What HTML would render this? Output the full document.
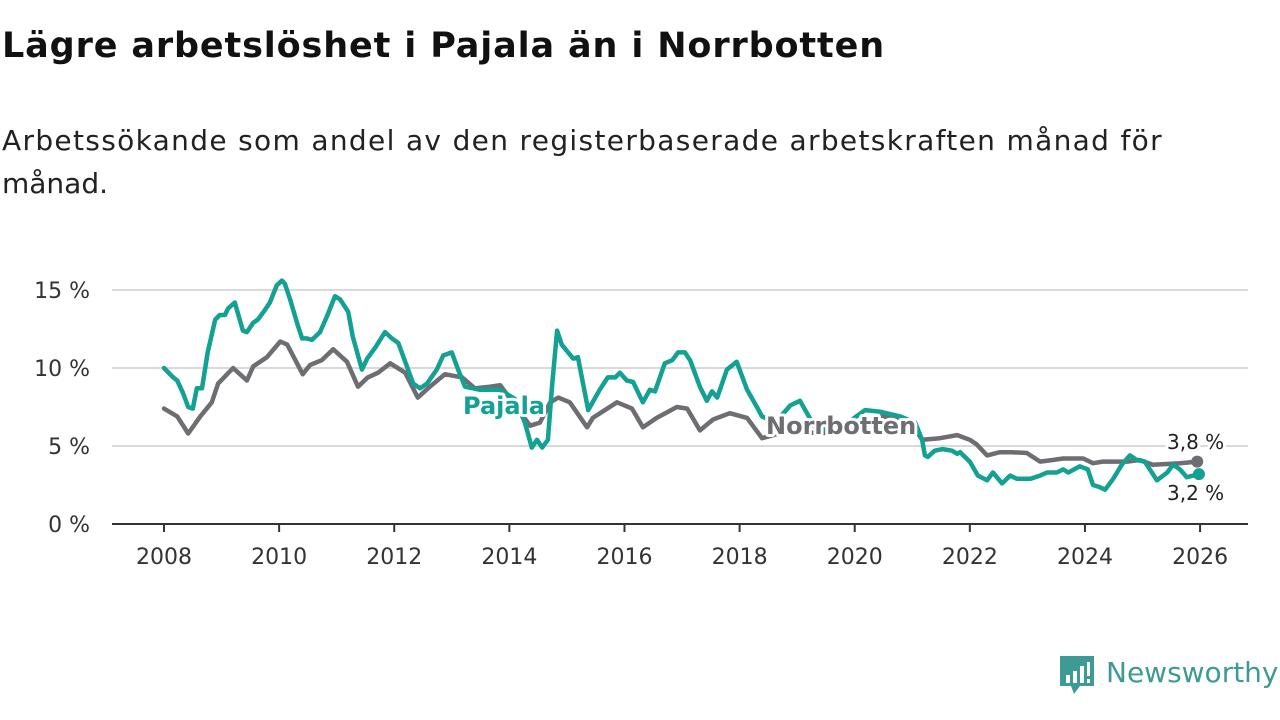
<!DOCTYPE html>
<html><head><meta charset="utf-8"><style>
body{margin:0;width:1280px;height:720px;background:#fff;font-family:"DejaVu Sans","Liberation Sans",sans-serif;overflow:hidden;position:relative}
h1{position:absolute;left:2px;top:26px;margin:0;font-size:35px;font-weight:bold;color:#111;white-space:nowrap}
.sub{position:absolute;left:2px;top:119px;margin:0;font-size:28px;line-height:43px;color:#222;white-space:nowrap}
.sub span{display:block}
svg{position:absolute;left:0;top:0}
</style></head><body>
<h1 id="title">Lägre arbetslöshet i Pajala än i Norrbotten</h1>
<div class="sub"><span id="sub1">Arbetssökande som andel av den registerbaserade arbetskraften månad för</span><span>månad.</span></div>
<svg id="chart" width="1280" height="720"></svg>
<svg width="1280" height="720" style="pointer-events:none">
<g>
<path d="M1060 656h34v30h-14l-6 8-3-8h-11z" fill="#3d9a94"/>
<rect x="1066" y="675" width="4" height="8" fill="#fff"/><rect x="1073" y="671" width="4" height="12" fill="#fff"/><rect x="1080" y="666" width="4" height="17" fill="#fff"/><rect x="1087" y="662" width="3" height="14" fill="#fff"/><rect x="1087" y="679" width="3" height="4" fill="#fff"/>
<text x="1106" y="682" font-size="28" fill="#3d9a94" font-family="DejaVu Sans, sans-serif">Newsworthy</text>
</g></svg>
<script>
const yTicks=[0,5,10,15];
const yTickLabels=["0 %","5 %","10 %","15 %"];
const xTicks=[2008,2010,2012,2014,2016,2018,2020,2022,2024,2026];
const pajalaT=[2008,2008.16,2008.23,2008.33,2008.42,2008.5,2008.57,2008.66,2008.76,2008.89,2008.97,2009.06,2009.11,2009.23,2009.37,2009.44,2009.55,2009.63,2009.75,2009.84,2009.96,2010.05,2010.1,2010.19,2010.31,2010.4,2010.48,2010.57,2010.71,2010.83,2010.97,2011.06,2011.2,2011.28,2011.44,2011.53,2011.67,2011.84,2011.96,2012.07,2012.22,2012.33,2012.45,2012.57,2012.74,2012.85,2013,2013.11,2013.23,2013.49,2013.84,2014.1,2014.27,2014.39,2014.48,2014.57,2014.67,2014.74,2014.83,2014.91,2015.02,2015.11,2015.19,2015.37,2015.57,2015.71,2015.84,2015.92,2016.04,2016.15,2016.32,2016.44,2016.53,2016.7,2016.83,2016.93,2017.05,2017.14,2017.31,2017.43,2017.52,2017.61,2017.78,2017.95,2018.13,2018.3,2018.39,2018.62,2018.88,2019.05,2019.31,2019.57,2019.92,2020.18,2020.44,2020.79,2021.05,2021.17,2021.22,2021.27,2021.39,2021.53,2021.69,2021.78,2021.83,2022,2022.14,2022.3,2022.4,2022.56,2022.7,2022.82,2023.05,2023.22,2023.34,2023.51,2023.62,2023.71,2023.91,2024.05,2024.14,2024.23,2024.35,2024.49,2024.64,2024.78,2024.9,2025.04,2025.25,2025.43,2025.53,2025.65,2025.77,2025.88,2025.98];
const pajalaV=[10,9.4,9.2,8.4,7.5,7.4,8.7,8.7,11,13.1,13.4,13.4,13.8,14.2,12.4,12.3,12.9,13.1,13.7,14.2,15.3,15.6,15.4,14.4,12.9,11.9,11.9,11.8,12.3,13.3,14.6,14.4,13.6,12,9.9,10.6,11.3,12.3,11.9,11.6,10.1,9,8.7,9,9.9,10.8,11,9.9,8.8,8.6,8.6,8,6.5,4.9,5.4,4.9,5.4,8.8,12.4,11.5,11,10.6,10.7,7.3,8.6,9.4,9.4,9.7,9.2,9.1,7.8,8.6,8.5,10.3,10.5,11,11,10.5,8.8,7.9,8.5,8.1,9.9,10.4,8.6,7.5,6.9,6.5,7.6,7.9,6.2,6,6.6,7.3,7.2,6.9,6.5,5.4,4.4,4.3,4.7,4.8,4.7,4.5,4.6,4,3.1,2.8,3.3,2.6,3.1,2.9,2.9,3.1,3.3,3.3,3.5,3.3,3.7,3.5,2.5,2.4,2.2,2.9,3.8,4.4,4.1,4,2.8,3.3,3.8,3.5,3,3.1,3.2];
const norrT=[2008,2008.23,2008.42,2008.63,2008.83,2008.94,2009.2,2009.44,2009.55,2009.79,2010.02,2010.14,2010.41,2010.54,2010.74,2010.94,2011.18,2011.37,2011.54,2011.72,2011.93,2012.19,2012.41,2012.62,2012.88,2013.18,2013.4,2013.66,2013.84,2014.1,2014.36,2014.53,2014.71,2014.85,2015.05,2015.35,2015.45,2015.87,2016.13,2016.32,2016.56,2016.91,2017.09,2017.31,2017.54,2017.83,2018.13,2018.39,2018.88,2019.4,2019.92,2020.44,2020.87,2021.1,2021.17,2021.48,2021.78,2022,2022.12,2022.3,2022.52,2022.73,2022.99,2023.22,2023.44,2023.62,2023.97,2024.14,2024.31,2024.73,2024.95,2025.18,2025.65,2025.95];
const norrV=[7.4,6.9,5.8,6.9,7.8,9,10,9.2,10.1,10.7,11.7,11.5,9.6,10.2,10.5,11.2,10.4,8.8,9.4,9.7,10.3,9.7,8.1,8.8,9.6,9.4,8.7,8.8,8.9,7.6,6.3,6.5,7.8,8.1,7.8,6.2,6.8,7.8,7.4,6.2,6.8,7.5,7.4,6,6.7,7.1,6.8,5.5,6,5.8,6.1,6.9,6.7,5.8,5.4,5.5,5.7,5.4,5.1,4.4,4.6,4.6,4.55,4,4.1,4.2,4.2,3.9,4,4,4.1,3.8,3.9,4];
const lastLabels=["3,8 %","3,2 %"];
function fit(el,target){const w=el.getBoundingClientRect().width;const n=el.textContent.length;el.style.letterSpacing=((target-w)/n)+'px';}
fit(document.getElementById('title'),883);
fit(document.getElementById('sub1'),1161);
const NS="http://www.w3.org/2000/svg";
const svg=document.getElementById('chart');
const X=y=>164+(y-2008)*57.56;
const Y=v=>524-v*15.6;
function mk(tag,attrs,parent){const e=document.createElementNS(NS,tag);for(const k in attrs)e.setAttribute(k,attrs[k]);(parent||svg).appendChild(e);return e;}
yTicks.forEach((t,i)=>{
 if(t>0){const g=mk('line',{x1:112,x2:1248,y1:Y(t),y2:Y(t),stroke:'#d9d9d9','stroke-width':2});
 
 }
 const l=mk('text',{x:90,y:Y(t)+8,'text-anchor':'end','font-size':22,fill:'#333'});
 l.textContent=yTickLabels[i];
 
 
});
const ax=mk('line',{x1:112,x2:1248,y1:524,y2:524,stroke:'#333','stroke-width':2});


xTicks.forEach(t=>{
 mk('line',{x1:X(t),x2:X(t),y1:524,y2:532,stroke:'#333','stroke-width':2});
 const l=mk('text',{x:X(t),y:564,'text-anchor':'middle','font-size':22,fill:'#333'});
 l.textContent=t;
 
 
});
function line(T,V,color,name){
 const p=mk('path',{d:T.map((t,i)=>(i?'L':'M')+X(t).toFixed(1)+' '+Y(V[i]).toFixed(1)).join(''),fill:'none',stroke:color,'stroke-width':4.5,'stroke-linejoin':'round','stroke-linecap':'round'});
 
 
}
line(norrT,norrV,'#6e6d72','norrbotten-line');
line(pajalaT,pajalaV,'#12a192','pajala-line');
const d1=mk('circle',{cx:X(norrT[norrT.length-1]),cy:Y(norrV[norrV.length-1]),r:6,fill:'#6e6d72'});


const d2=mk('circle',{cx:X(pajalaT[pajalaT.length-1]),cy:Y(pajalaV[pajalaV.length-1]),r:6,fill:'#12a192'});


function lab(txt,x,y,color,size,weight,name){
 const t=mk('text',{x:x,y:y,fill:color,'font-size':size,'font-weight':weight,stroke:'#fff','stroke-width':6,'paint-order':'stroke','stroke-linejoin':'round'});
 t.textContent=txt;
 
 
}
lab('Pajala',463,414,'#12a192',24,'bold','pajala-label');
lab('Norrbotten',766,434,'#6e6d72',24,'bold','norrbotten-label');
lab(lastLabels[0],1167,449,'#222',20,'normal','norrbotten-last-value');
lab(lastLabels[1],1167,500,'#222',20,'normal','pajala-last-value');
</script>
</body></html>
